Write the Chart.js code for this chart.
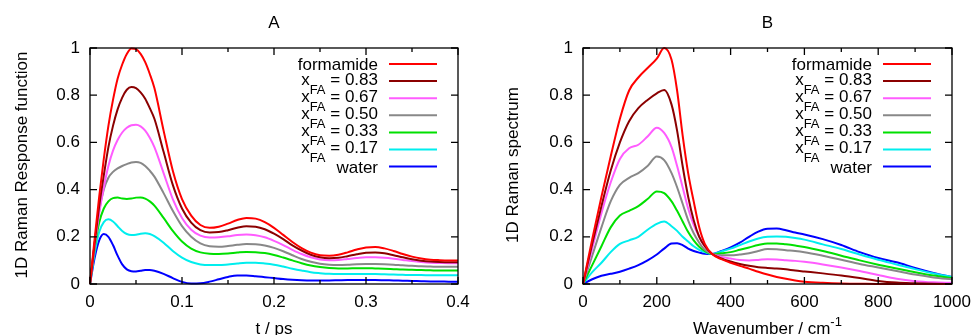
<!DOCTYPE html>
<html>
<head>
<meta charset="utf-8">
<script src="https://cdn.jsdelivr.net/npm/chart.js@4.4.0/dist/chart.umd.min.js"></script>
<style>
  body { margin: 0; background: #fff; }
  #wrap { position: relative; width: 973px; height: 335px; }
  canvas { position: absolute; top: 0; }
</style>
</head>
<body>
<div id="wrap">
  <canvas id="chartA" width="486" height="335" style="left:0"></canvas>
  <canvas id="chartB" width="487" height="335" style="left:486px"></canvas>
</div>
<script>
// ---- data: panel A (response function vs t / ps) ----
const tA = [0, 0.005, 0.01, 0.015, 0.02, 0.025, 0.03, 0.035, 0.04, 0.045, 0.05, 0.055, 0.06, 0.065,
  0.07, 0.08, 0.09, 0.10, 0.11, 0.12, 0.13, 0.14, 0.15, 0.16, 0.17, 0.18, 0.19, 0.20, 0.21, 0.22,
  0.23, 0.24, 0.25, 0.26, 0.27, 0.28, 0.29, 0.30, 0.31, 0.32, 0.33, 0.34, 0.35, 0.36, 0.37, 0.38, 0.39, 0.40];

const formamideA = [0, 0.19, 0.37, 0.53, 0.67, 0.78, 0.87, 0.93, 0.975, 0.998, 0.995, 0.975, 0.94, 0.89,
  0.83, 0.65, 0.48, 0.36, 0.29, 0.25, 0.238, 0.243, 0.256, 0.271, 0.28, 0.277, 0.262, 0.238, 0.208, 0.178,
  0.152, 0.133, 0.122, 0.12, 0.124, 0.134, 0.146, 0.155, 0.157, 0.151, 0.14, 0.127, 0.116, 0.108, 0.103, 0.101, 0.10, 0.10];
const x083A = [0, 0.17, 0.33, 0.46, 0.58, 0.67, 0.74, 0.79, 0.823, 0.835, 0.83, 0.812, 0.785, 0.745,
  0.70, 0.56, 0.42, 0.32, 0.26, 0.228, 0.218, 0.22, 0.228, 0.238, 0.245, 0.243, 0.232, 0.213, 0.19, 0.164,
  0.142, 0.124, 0.113, 0.109, 0.111, 0.118, 0.126, 0.132, 0.133, 0.13, 0.122, 0.113, 0.105, 0.099, 0.095, 0.093, 0.092, 0.092];
const x067A = [0, 0.16, 0.30, 0.41, 0.50, 0.565, 0.61, 0.642, 0.662, 0.673, 0.675, 0.668, 0.65, 0.62,
  0.58, 0.47, 0.36, 0.28, 0.23, 0.205, 0.197, 0.198, 0.202, 0.208, 0.21, 0.207, 0.198, 0.183, 0.165, 0.145,
  0.127, 0.113, 0.104, 0.101, 0.102, 0.106, 0.11, 0.113, 0.113, 0.111, 0.107, 0.102, 0.097, 0.093, 0.09, 0.089, 0.088, 0.088];
const x050A = [0, 0.17, 0.31, 0.40, 0.45, 0.475, 0.49, 0.50, 0.508, 0.515, 0.517, 0.513, 0.50, 0.48,
  0.455, 0.385, 0.31, 0.245, 0.2, 0.172, 0.16, 0.158, 0.161, 0.166, 0.169, 0.168, 0.163, 0.153, 0.139, 0.122,
  0.106, 0.094, 0.086, 0.082, 0.081, 0.082, 0.084, 0.085, 0.085, 0.084, 0.082, 0.079, 0.077, 0.075, 0.074, 0.073, 0.073, 0.073];
const x033A = [0, 0.15, 0.26, 0.32, 0.35, 0.364, 0.366, 0.362, 0.36, 0.362, 0.366, 0.367, 0.362, 0.35,
  0.332, 0.28, 0.225, 0.18, 0.15, 0.134, 0.128, 0.127, 0.129, 0.133, 0.136, 0.135, 0.131, 0.123, 0.112, 0.1,
  0.088, 0.078, 0.072, 0.068, 0.066, 0.066, 0.067, 0.067, 0.066, 0.065, 0.063, 0.061, 0.06, 0.059, 0.058, 0.057, 0.057, 0.057];
const x017A = [0, 0.13, 0.22, 0.262, 0.274, 0.265, 0.245, 0.225, 0.212, 0.208, 0.209, 0.213, 0.215, 0.212,
  0.203, 0.175, 0.14, 0.112, 0.093, 0.083, 0.08, 0.08, 0.083, 0.087, 0.09, 0.09, 0.087, 0.082, 0.074, 0.065,
  0.057, 0.05, 0.046, 0.043, 0.042, 0.042, 0.042, 0.042, 0.042, 0.041, 0.04, 0.039, 0.038, 0.038, 0.037, 0.037, 0.037, 0.037];
const waterA = [0, 0.11, 0.185, 0.212, 0.2, 0.165, 0.12, 0.083, 0.062, 0.054, 0.053, 0.056, 0.059, 0.059,
  0.056, 0.043, 0.025, 0.009, 0.002, 0.003, 0.01, 0.02, 0.03, 0.036, 0.036, 0.033, 0.029, 0.025, 0.021, 0.018,
  0.016, 0.015, 0.015, 0.015, 0.016, 0.017, 0.017, 0.017, 0.017, 0.016, 0.015, 0.014, 0.013, 0.012, 0.011, 0.011, 0.01, 0.01];

// ---- data: panel B (spectrum vs wavenumber / cm-1) ----
const wB = [0, 25, 50, 75, 100, 125, 150, 175, 200, 220, 240, 255, 270, 285, 300, 315, 330, 350, 375, 400,
  425, 450, 475, 500, 525, 550, 575, 600, 650, 700, 750, 800, 850, 900, 950, 1000];

const formamideB = [0, 0.19, 0.37, 0.54, 0.70, 0.82, 0.875, 0.915, 0.955, 1.0, 0.95, 0.82, 0.63, 0.47, 0.35,
  0.24, 0.17, 0.127, 0.105, 0.09, 0.077, 0.065, 0.052, 0.04, 0.03, 0.022, 0.015, 0.01, 0.005, 0.002, 0.001, 0, 0, 0, 0, 0];
const x083B = [0, 0.17, 0.33, 0.48, 0.60, 0.69, 0.745, 0.78, 0.808, 0.822, 0.76, 0.65, 0.5, 0.37, 0.27,
  0.2, 0.16, 0.127, 0.108, 0.095, 0.085, 0.077, 0.071, 0.068, 0.066, 0.062, 0.057, 0.053, 0.045, 0.036, 0.025, 0.013, 0.006, 0.003, 0.001, 0];
const x067B = [0, 0.15, 0.30, 0.43, 0.53, 0.575, 0.59, 0.625, 0.662, 0.64, 0.58, 0.5, 0.41, 0.32, 0.25,
  0.2, 0.16, 0.127, 0.115, 0.108, 0.102, 0.1, 0.102, 0.105, 0.104, 0.101, 0.098, 0.094, 0.083, 0.07, 0.055, 0.038, 0.022, 0.012, 0.007, 0.005];
const x050B = [0, 0.12, 0.24, 0.35, 0.42, 0.45, 0.47, 0.50, 0.54, 0.525, 0.47, 0.41, 0.34, 0.27, 0.215,
  0.175, 0.145, 0.127, 0.122, 0.122, 0.125, 0.13, 0.14, 0.148, 0.147, 0.143, 0.14, 0.135, 0.12, 0.103, 0.085, 0.07, 0.055, 0.04, 0.028, 0.02];
const x033B = [0, 0.08, 0.16, 0.24, 0.29, 0.31, 0.33, 0.36, 0.392, 0.385, 0.35, 0.31, 0.265, 0.22, 0.185,
  0.158, 0.14, 0.127, 0.13, 0.135, 0.145, 0.155, 0.165, 0.172, 0.172, 0.168, 0.163, 0.157, 0.14, 0.12, 0.1, 0.082, 0.066, 0.05, 0.036, 0.025];
const x017B = [0, 0.05, 0.09, 0.135, 0.17, 0.185, 0.2, 0.23, 0.255, 0.265, 0.245, 0.225, 0.2, 0.18, 0.16,
  0.145, 0.135, 0.127, 0.138, 0.15, 0.165, 0.18, 0.193, 0.2, 0.201, 0.2, 0.195, 0.188, 0.168, 0.148, 0.125, 0.103, 0.083, 0.063, 0.045, 0.03];
const waterB = [0, 0.02, 0.035, 0.043, 0.052, 0.065, 0.08, 0.1, 0.125, 0.15, 0.172, 0.173, 0.165, 0.15, 0.14,
  0.133, 0.128, 0.127, 0.14, 0.155, 0.175, 0.2, 0.222, 0.234, 0.235, 0.228, 0.218, 0.21, 0.19, 0.165, 0.135, 0.11, 0.092, 0.068, 0.047, 0.03];

// ---- labels, colours, ticks ----
const seriesLabels = ['formamide', 'x_FA = 0.83', 'x_FA = 0.67', 'x_FA = 0.50', 'x_FA = 0.33', 'x_FA = 0.17', 'water'];
const seriesColors = ['#ff0000', '#8b0000', '#ff5cff', '#888888', '#00e000', '#00eeee', '#0000ff'];

const yTicks = [0, 0.2, 0.4, 0.6, 0.8, 1];
const yTickLabels = ['0', '0.2', '0.4', '0.6', '0.8', '1'];
const xTicksA = [0, 0.1, 0.2, 0.3, 0.4];
const xTickLabelsA = ['0', '0.1', '0.2', '0.3', '0.4'];
const xMinorA = [0.05, 0.15, 0.25, 0.35];
const xTicksB = [0, 200, 400, 600, 800, 1000];
const xTickLabelsB = ['0', '200', '400', '600', '800', '1000'];
const xMinorB = [100, 300, 500, 700, 900];

const FONT = '"Liberation Sans", Arial, Helvetica, sans-serif';

// draws "x_FA = 0.83" style text right-aligned at x, row centred on y
function legendText(ctx, label, x, y) {
  const parts = label.split(/_(FA)/);
  if (parts.length === 1) {
    ctx.font = '17px ' + FONT;
    ctx.textAlign = 'right';
    ctx.fillText(label, x, y + 6);
    return;
  }
  ctx.font = '17px ' + FONT;
  const w1 = ctx.measureText(parts[0]).width;
  const w3 = ctx.measureText(parts[2]).width;
  ctx.font = '13px ' + FONT;
  const w2 = ctx.measureText(parts[1]).width;
  let cx = x - (w1 + w2 + w3);
  const base = y + 3.5;
  ctx.textAlign = 'left';
  ctx.font = '17px ' + FONT;
  ctx.fillText(parts[0], cx, base);
  cx += w1;
  ctx.font = '13px ' + FONT;
  ctx.fillText(parts[1], cx, base + 9);
  cx += w2;
  ctx.font = '17px ' + FONT;
  ctx.fillText(parts[2], cx, base);
}

function framePlugin(cfg) {
  return {
    id: 'frame',
    afterDraw(chart) {
      const ctx = chart.ctx, a = chart.chartArea;
      const xs = chart.scales.x, ys = chart.scales.y;
      ctx.save();
      ctx.strokeStyle = '#000';
      ctx.lineWidth = 1.3;
      ctx.strokeRect(a.left, a.top, a.right - a.left, a.bottom - a.top);
      ctx.beginPath();
      cfg.xTicks.forEach(v => {
        const p = xs.getPixelForValue(v);
        ctx.moveTo(p, a.bottom); ctx.lineTo(p, a.bottom - 7);
        ctx.moveTo(p, a.top); ctx.lineTo(p, a.top + 7);
      });
      cfg.xMinor.forEach(v => {
        const p = xs.getPixelForValue(v);
        ctx.moveTo(p, a.bottom); ctx.lineTo(p, a.bottom - 4);
        ctx.moveTo(p, a.top); ctx.lineTo(p, a.top + 4);
      });
      yTicks.forEach(v => {
        const p = ys.getPixelForValue(v);
        ctx.moveTo(a.left, p); ctx.lineTo(a.left + 7, p);
        ctx.moveTo(a.right, p); ctx.lineTo(a.right - 7, p);
      });
      ctx.stroke();

      ctx.fillStyle = '#000';
      ctx.font = '17px ' + FONT;
      ctx.textBaseline = 'middle';
      ctx.textAlign = 'center';
      cfg.xTicks.forEach((v, i) => ctx.fillText(cfg.xLabels[i], xs.getPixelForValue(v), a.bottom + 18));
      ctx.textAlign = 'right';
      yTicks.forEach((v, i) => ctx.fillText(yTickLabels[i], a.left - 10, ys.getPixelForValue(v)));

      // panel title
      const mid = (a.left + a.right) / 2;
      ctx.textAlign = 'center';
      ctx.fillText(cfg.title, mid, 23);

      // y axis title
      ctx.save();
      ctx.translate(cfg.yTitleX, (a.top + a.bottom) / 2 - 1);
      ctx.rotate(-Math.PI / 2);
      ctx.fillText(cfg.yTitle, 0, 0);
      ctx.restore();

      // x axis title (optional superscript)
      ctx.textBaseline = 'alphabetic';
      const wMain = ctx.measureText(cfg.xTitle).width;
      let wSup = 0;
      if (cfg.xSup) { ctx.font = '13px ' + FONT; wSup = ctx.measureText(cfg.xSup).width; }
      let sx = mid - (wMain + wSup) / 2;
      ctx.textAlign = 'left';
      ctx.font = '17px ' + FONT;
      ctx.fillText(cfg.xTitle, sx, 334);
      if (cfg.xSup) {
        ctx.font = '13px ' + FONT;
        ctx.fillText(cfg.xSup, sx + wMain, 326);
      }

      // key, gnuplot style
      ctx.textBaseline = 'alphabetic';
      chart.data.datasets.forEach((ds, i) => {
        const y = 64 + i * 17.1;
        ctx.fillStyle = '#000';
        legendText(ctx, ds.label, cfg.keyX, y);
        ctx.strokeStyle = ds.borderColor;
        ctx.lineWidth = 2;
        ctx.beginPath();
        ctx.moveTo(cfg.keyX + 11, y);
        ctx.lineTo(cfg.keyX + 59, y);
        ctx.stroke();
      });
      ctx.restore();
    }
  };
}

function makeDatasets(xs, seriesList) {
  return seriesList.map((vals, i) => ({
    label: seriesLabels[i],
    data: xs.map((x, j) => ({ x: x, y: vals[j] })),
    borderColor: seriesColors[i],
    borderWidth: 2,
    pointRadius: 0,
    fill: false,
    cubicInterpolationMode: 'monotone',
    clip: false
  }));
}

function makeChart(id, xs, seriesList, xmax, padding, cfg) {
  return new Chart(document.getElementById(id), {
    type: 'line',
    data: { datasets: makeDatasets(xs, seriesList) },
    options: {
      responsive: false,
      animation: false,
      devicePixelRatio: 1,
      events: [],
      layout: { padding: padding },
      plugins: { legend: { display: false }, title: { display: false }, tooltip: { enabled: false } },
      scales: {
        x: { type: 'linear', min: 0, max: xmax, display: false },
        y: { type: 'linear', min: 0, max: 1, display: false }
      }
    },
    plugins: [framePlugin(cfg)]
  });
}

makeChart('chartA', tA, [formamideA, x083A, x067A, x050A, x033A, x017A, waterA], 0.4,
  { left: 90, right: 28, top: 48, bottom: 51 },
  { title: 'A', yTitle: '1D Raman Response function', yTitleX: 22, xTitle: 't / ps', xSup: null,
    xTicks: xTicksA, xLabels: xTickLabelsA, xMinor: xMinorA, keyX: 378 });

makeChart('chartB', wB, [formamideB, x083B, x067B, x050B, x033B, x017B, waterB], 1000,
  { left: 97, right: 21, top: 48, bottom: 51 },
  { title: 'B', yTitle: '1D Raman spectrum', yTitleX: 27, xTitle: 'Wavenumber / cm', xSup: '-1',
    xTicks: xTicksB, xLabels: xTickLabelsB, xMinor: xMinorB, keyX: 386 });
</script>
</body>
</html>
